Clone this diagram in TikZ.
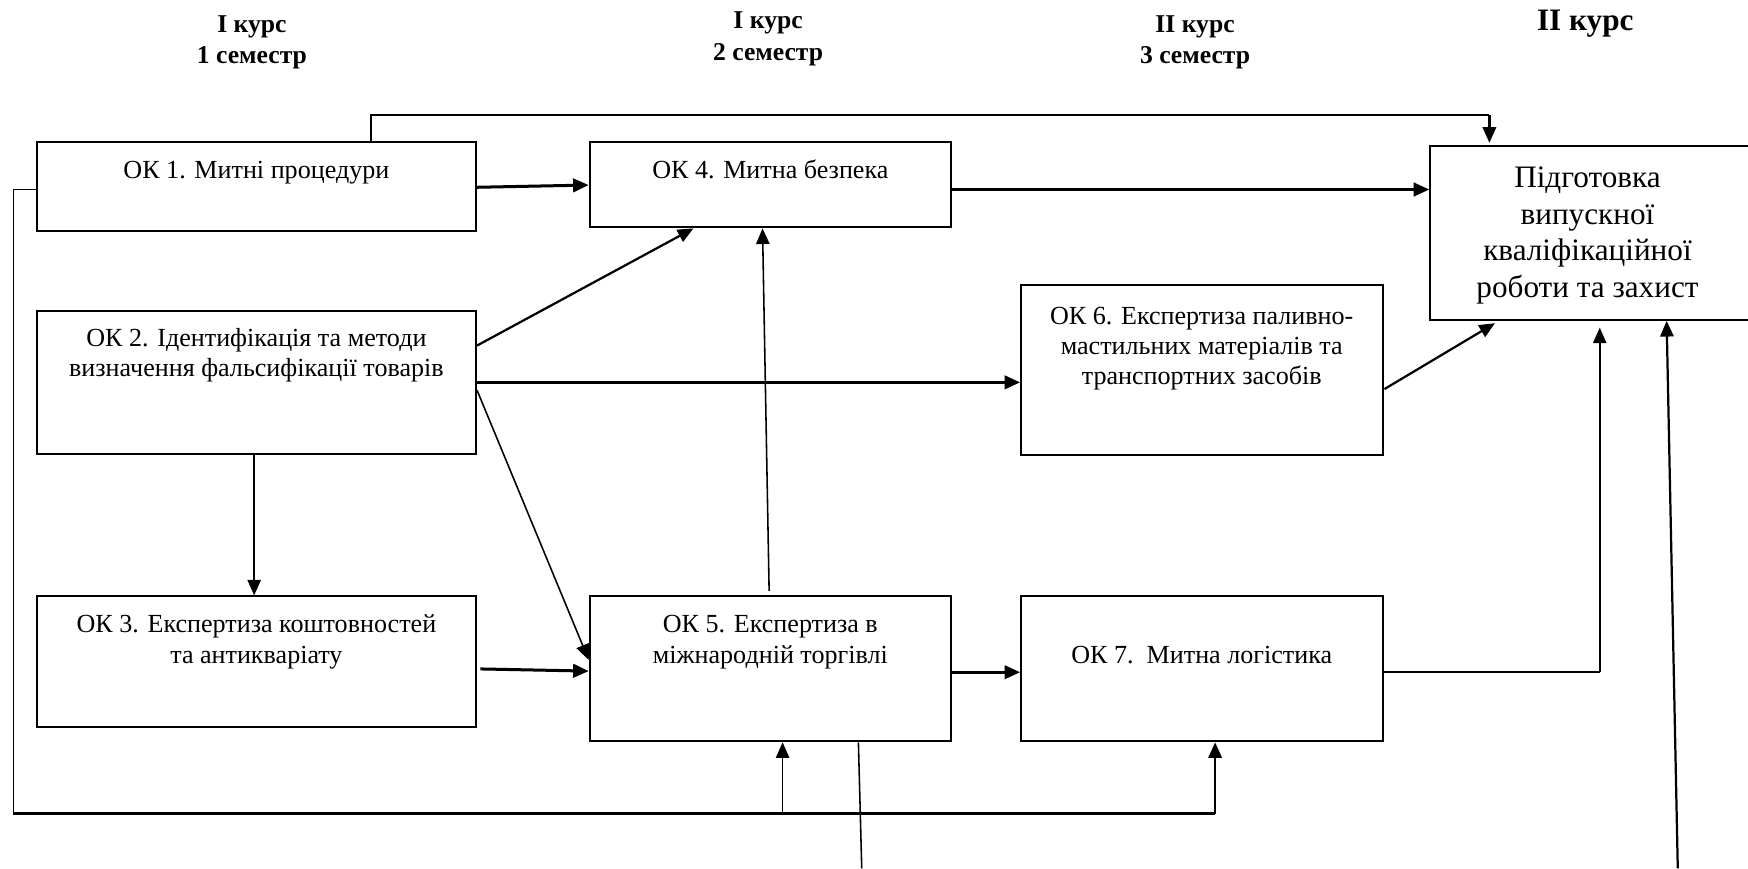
\documentclass[tikz,border=0pt]{standalone}
\usepackage{fontspec}
\setmainfont{Liberation Serif}
\usetikzlibrary{arrows.meta,fit}
\newcommand\okfont{\fontsize{11.7}{13.5}\selectfont}
\newcommand\pfont{\fontsize{14}{17}\selectfont}
\newcommand\hdfont{\fontsize{11.5}{13.5}\selectfont\bfseries}
\newcommand\hdbigfont{\fontsize{14}{17}\selectfont\bfseries}
\tikzset{
  box/.style={draw, line width=0.9pt, inner sep=0pt},
  tx/.style={font=\okfont, anchor=base, inner sep=0pt},
  ptx/.style={font=\pfont, anchor=base, inner sep=0pt},
  hd/.style={font=\hdfont, anchor=base, inner sep=0pt},
  hdbig/.style={font=\hdbigfont, anchor=base, inner sep=0pt},
  thk/.style={line width=1.35pt},
  med/.style={line width=1.0pt},
  thn/.style={line width=0.7pt},
  >={Triangle[length=7pt,width=6pt]}
}
\begin{document}
\begin{tikzpicture}[x=0.5pt,y=-0.5pt]
\useasboundingbox (0,0) rectangle (1568,779);
\fill[white] (0,0) rectangle (1568,779);

% headings
\node[hd] (h1a) at (226,29) {І курс};
\node[hd] (h1b) at (226,57) {1 семестр};
\node[hd] (h2a) at (689,26) {І курс};
\node[hd] (h2b) at (689,54) {2 семестр};
\node[hd] (h3a) at (1072,29) {ІІ курс};
\node[hd] (h3b) at (1072,57) {3 семестр};
\node[hdbig] (h4a) at (1422,27) {ІІ курс};

% boxes
\node[box, fit={(33,127) (427,207)}] (ok1) {};
\node[box, fit={(529,127) (853,204)}] (ok4) {};
\node[box, fit={(1283,131) (1578,287)}] (pb) {};
\node[box, fit={(33,279) (427,407)}] (ok2) {};
\node[box, fit={(916,256) (1241,408)}] (ok6) {};
\node[box, fit={(33,535) (427,652)}] (ok3) {};
\node[box, fit={(529,535) (853,665)}] (ok5) {};
\node[box, fit={(916,535) (1241,665)}] (ok7) {};

% texts
\node[tx] (t1) at (230,160) {ОК 1. Митні процедури};
\node[tx] (t4) at (691,160) {ОК 4. Митна безпека};
\node[tx] (t2a) at (230,311) {ОК 2. Ідентифікація та методи};
\node[tx] (t2b) at (230,338) {визначення фальсифікації товарів};
\node[tx] (t6a) at (1078,291) {ОК 6. Експертиза паливно-};
\node[tx] (t6b) at (1078,318) {мастильних матеріалів та};
\node[tx] (t6c) at (1078,345) {транспортних засобів};
\node[tx] (t3a) at (230,567) {ОК 3. Експертиза коштовностей};
\node[tx] (t3b) at (230,595) {та антикваріату};
\node[tx] (t5a) at (691,567) {ОК 5. Експертиза в};
\node[tx] (t5b) at (691,595) {міжнародній торгівлі};
\node[tx] (t7) at (1078,595) {ОК 7.\ \ Митна логістика};
\node[ptx] (tpa) at (1424,168) {Підготовка};
\node[ptx] (tpb) at (1424,201) {випускної};
\node[ptx] (tpc) at (1424,234) {кваліфікаційної};
\node[ptx] (tpd) at (1424,267) {роботи та захист};

% helper coordinates
\coordinate (a1) at (333,103);
\coordinate (a2) at (1336,103);
\coordinate (b1) at (12,170);
\coordinate (b2) at (12,730);
\coordinate (b3) at (1090,730);
\coordinate (b4) at (702,730);
\coordinate (c1) at (1435,603);
\coordinate (d1) at (773,779);
\coordinate (e1) at (1505,779);

% connectors
\draw[med] (ok1.north -| a1) -- (a1) -- (a2);
\draw[med,->] (a2) -- ([yshift=1pt]pb.north -| a2);
\draw[thk,->] (ok1.east |- 0,168) -- (ok4.west |- 0,166);
\draw[thn] (ok1.west |- b1) -- (b1) -- (b2);
\draw[thk] (b2) -- (b3);
\draw[med,->] (b3) -- (ok7.south -| b3);
\draw[thn,->] (b4) -- (ok5.south -| b4);
\draw[thk,->] (ok4.east |- 0,170) -- (pb.west |- 0,170);
\draw[med,->] (ok2.east |- 0,310) -- (ok4.south -| 622,0);
\draw[thk,->] (ok2.east |- 0,343) -- (ok6.west |- 0,343);
\draw[thn,->] (ok2.east |- 0,350) -- (ok5.west |- 0,592);
\draw[thn,->] (ok2.south -| 228,0) -- (ok3.north -| 228,0);
\draw[thn,->,shorten <=2pt] (ok5.north -| 690,0) -- (ok4.south -| 684,0);
\draw[thk,->,shorten <=1.5pt] (ok3.east |- 0,600) -- (ok5.west |- 0,602);
\draw[thk,->] (ok5.east |- 0,603) -- (ok7.west |- 0,603);
\draw[med,->] (ok6.east |- 0,349) -- ([yshift=-1pt]pb.south -| 1341,0);
\draw[med] (ok7.east |- c1) -- (c1);
\draw[thn,->] (c1) -- ([yshift=-3pt]pb.south -| c1);
\draw[thn] (ok5.south -| 770,0) -- (d1);
\draw[med,->] (e1) -- (pb.south -| 1495,0);
\end{tikzpicture}
\end{document}
